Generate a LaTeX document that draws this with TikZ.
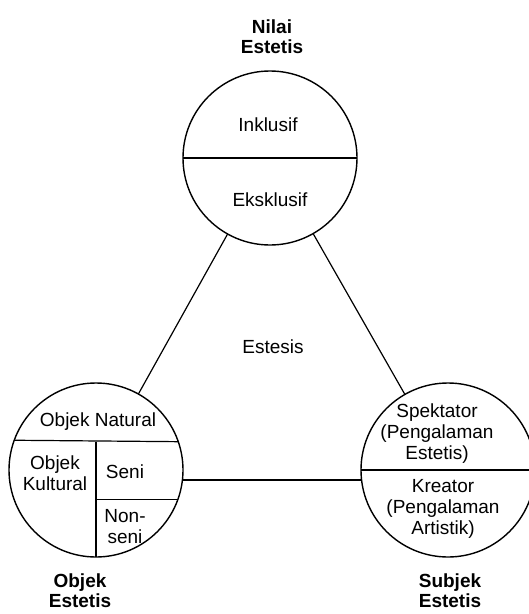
\documentclass[tikz,border=0pt]{standalone}
\usepackage{fontspec}
\setmainfont{Liberation Sans}
\tikzset{
  lingkaran/.style={draw, circle, minimum size=174pt, inner sep=0pt, outer sep=0pt, line width=1.4pt},
  teks/.style={align=center, font=\fontsize{19}{21}\selectfont},
  judul/.style={align=center, font=\fontsize{19}{20}\selectfont\bfseries},
}
\begin{document}
\begin{tikzpicture}[x=1pt,y=-1pt,line width=1.2pt]
                \useasboundingbox (0,0) rectangle (529,614);

                % Lingkaran
                \node[lingkaran] (nilai) at (270,158) {};
                \node[lingkaran] (objek) at (96,470) {};
                \node[lingkaran] (subjek) at (448,470) {};

                % Garis antar lingkaran
                \draw (nilai) -- (objek);
                \draw (nilai) -- (subjek);
                \draw ([yshift=-10pt]objek.east) -- ([yshift=-10pt]subjek.west);

                % Pembagi
                \draw (nilai.west) -- (nilai.east);
                \draw (objek.160.5) -- (objek.19.5);
                \draw (objek.center |- objek.19.5) -- (objek.south);
                \draw (objek.center |- objek.-20.2) -- (objek.-20.2);
                \draw (subjek.west) -- (subjek.east);

                % Teks
                \node[judul] (tNilai) at (272,37) {Nilai\\Estetis};
                \node[teks] (tInklusif) at (268,125) {Inklusif};
                \node[teks] (tEksklusif) at (270,200) {Eksklusif};
                \node[teks] (tEstesis) at (273,347) {Estesis};
                \node[teks] (tNatural) at (98,422) {Objek Natural};
                \node[teks] (tKultural) at (55,473) {Objek\\Kultural};
                \node[teks] (tSeni) at (125,472) {Seni};
                \node[teks] (tNonseni) at (125,527) {Non-\\seni};
                \node[judul] (tObjek) at (80,591) {Objek\\Estetis};
                \node[teks] (tSpektator) at (437,434) {Spektator\\(Pengalaman\\Estetis)};
                \node[teks] (tKreator) at (443,509) {Kreator\\(Pengalaman\\Artistik)};
                \node[judul] (tSubjek) at (450,591) {Subjek\\Estetis};

\end{tikzpicture}
\end{document}
